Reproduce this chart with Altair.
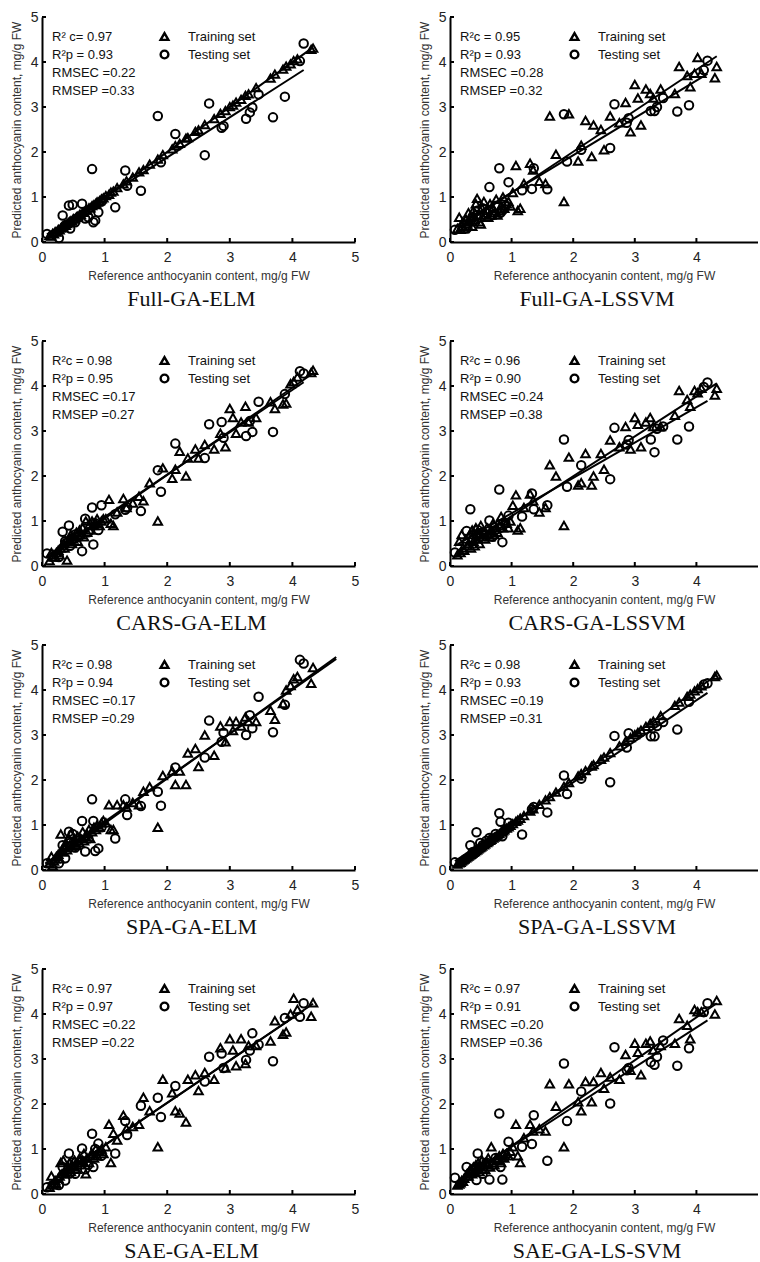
import altair as alt
import pandas as pd

# ---------------- data ----------------
train_ref = [0.12, 0.15, 0.17, 0.19, 0.21, 0.23, 0.26, 0.28, 0.30, 0.32,
             0.34, 0.36, 0.38, 0.40, 0.42, 0.44, 0.46, 0.48, 0.50, 0.52,
             0.55, 0.57, 0.60, 0.62, 0.65, 0.67, 0.70, 0.72, 0.75, 0.77,
             0.80, 0.83, 0.86, 0.88, 0.92, 0.95, 0.98,
             1.02, 1.07, 1.10, 1.14, 1.20, 1.30, 1.35, 1.45, 1.55, 1.62,
             1.72, 1.85, 1.93, 2.08, 2.13, 2.20, 2.30, 2.33, 2.45, 2.50,
             2.60, 2.75, 2.85, 2.93, 3.00, 3.05, 3.10, 3.18, 3.25, 3.30,
             3.42, 3.65, 3.72, 3.85, 3.90, 3.97, 4.02, 4.08, 4.30, 4.33]

test_ref = [0.08, 0.27, 0.33, 0.37, 0.43, 0.45, 0.49, 0.53, 0.59, 0.64,
            0.69, 0.74, 0.80, 0.82, 0.85, 0.90, 0.95, 1.17, 1.33, 1.36,
            1.58, 1.85, 1.90, 2.13, 2.60, 2.67, 2.87, 2.90, 3.26, 3.32,
            3.36, 3.46, 3.69, 3.88, 4.12, 4.18]

full_elm_train = [0.14, 0.13, 0.19, 0.18, 0.23, 0.22, 0.28, 0.27, 0.31, 0.33,
                  0.33, 0.38, 0.37, 0.41, 0.43, 0.45, 0.47, 0.47, 0.52, 0.51,
                  0.56, 0.57, 0.61, 0.61, 0.66, 0.66, 0.71, 0.71, 0.76, 0.76,
                  0.81, 0.83, 0.86, 0.89, 0.92, 0.96, 0.98,
                  1.03, 1.06, 1.11, 1.13, 1.21, 1.29, 1.36, 1.44, 1.56, 1.61,
                  1.73, 1.84, 1.94, 2.07, 2.14, 2.19, 2.31, 2.32, 2.46, 2.49,
                  2.61, 2.74, 2.86, 2.92, 3.01, 3.04, 3.11, 3.17, 3.26, 3.29,
                  3.43, 3.64, 3.73, 3.84, 3.91, 3.96, 4.03, 4.07, 4.28, 4.31]
full_elm_test = [0.18, 0.09, 0.59, 0.37, 0.81, 0.30, 0.83, 0.44, 0.55, 0.85,
                 0.52, 0.55, 1.62, 0.44, 0.48, 0.66, 0.90, 0.77, 1.59, 1.25,
                 1.14, 2.80, 1.77, 2.40, 1.93, 3.08, 2.54, 2.58, 2.74, 2.88,
                 2.99, 3.28, 2.77, 3.23, 4.02, 4.41]

full_lssvm_train = [0.30, 0.55, 0.28, 0.35, 0.45, 0.30, 0.50, 0.40, 0.65, 0.45,
                    0.55, 0.35, 0.70, 0.50, 0.85, 0.97, 0.60, 0.45, 0.40, 0.75,
                    0.90, 0.60, 0.70, 0.55, 0.85, 0.60, 0.75, 0.65, 0.95, 0.60,
                    0.70, 0.80, 1.00, 0.75, 0.85, 0.90, 0.80,
                    1.10, 1.70, 0.70, 0.75, 1.30, 1.75, 1.60, 1.35, 1.30, 2.80,
                    1.95, 0.90, 2.85, 1.80, 2.15, 2.70, 1.90, 2.60, 2.50, 2.05,
                    2.80, 2.65, 3.10, 2.45, 3.50, 3.20, 2.60, 3.40, 3.30, 3.20,
                    3.40, 3.30, 3.90, 3.70, 3.45, 3.75, 4.10, 3.75, 3.65, 3.90]
full_lssvm_test = [0.27, 0.30, 0.45, 0.55, 0.60, 0.70, 0.55, 0.75, 0.65, 1.22,
                   0.60, 0.80, 1.64, 0.65, 0.70, 0.80, 1.33, 1.15, 1.18, 1.64,
                   1.17, 2.84, 1.79, 2.05, 2.09, 3.06, 2.65, 2.75, 2.91, 2.91,
                   3.00, 3.20, 2.90, 3.04, 3.82, 4.03]

cars_elm_train = [0.12, 0.30, 0.20, 0.25, 0.20, 0.30, 0.35, 0.25, 0.40, 0.45,
                  0.50, 0.40, 0.55, 0.13, 0.55, 0.60, 0.70, 0.50, 0.60, 0.65,
                  0.75, 0.55, 0.80, 0.70, 0.85, 0.65, 1.00, 0.75, 0.90, 0.80,
                  1.00, 0.90, 0.95, 1.05, 0.90, 1.00, 1.05,
                  1.05, 1.48, 0.95, 0.90, 1.20, 1.50, 1.30, 1.40, 1.55, 1.45,
                  1.85, 1.00, 2.18, 1.95, 2.15, 2.55, 2.00, 2.40, 2.60, 2.40,
                  2.70, 2.60, 2.95, 2.65, 3.50, 3.30, 2.95, 3.20, 3.55, 3.20,
                  3.30, 3.65, 3.50, 3.60, 3.62, 4.05, 4.10, 4.20, 4.30, 4.35]
cars_elm_test = [0.28, 0.20, 0.76, 0.55, 0.90, 0.45, 0.60, 0.70, 0.65, 0.33,
                 1.05, 0.75, 1.30, 0.48, 0.95, 0.80, 1.35, 1.15, 1.25, 1.30,
                 1.22, 2.13, 1.65, 2.72, 2.40, 3.15, 3.20, 2.85, 2.89, 3.22,
                 2.98, 3.65, 2.98, 3.82, 4.33, 4.28]

cars_lssvm_train = [0.25, 0.55, 0.30, 0.70, 0.40, 0.35, 0.60, 0.45, 0.50, 0.70,
                    0.40, 0.80, 0.55, 0.45, 0.85, 0.60, 0.70, 0.50, 0.90, 0.65,
                    0.75, 0.60, 0.85, 0.70, 0.65, 0.80, 0.95, 0.70, 0.85, 0.75,
                    0.90, 1.10, 0.85, 1.00, 0.95, 0.85, 1.00,
                    1.35, 1.58, 0.80, 0.85, 1.30, 1.60, 1.45, 1.20, 1.30, 2.25,
                    2.00, 0.90, 2.42, 1.80, 1.85, 2.50, 1.80, 2.00, 2.50, 2.15,
                    2.80, 2.65, 3.10, 2.60, 3.30, 3.15, 2.65, 3.20, 3.30, 3.10,
                    3.10, 3.35, 3.90, 3.70, 3.55, 3.90, 3.85, 3.95, 3.80, 3.95]
cars_lssvm_test = [0.30, 0.78, 1.26, 0.60, 0.70, 0.80, 0.65, 0.75, 0.70, 1.01,
                   0.65, 0.80, 1.70, 0.85, 0.53, 0.95, 1.12, 1.10, 1.61, 1.26,
                   1.35, 2.81, 1.76, 2.24, 1.93, 3.07, 2.70, 2.80, 2.81, 2.53,
                   3.05, 3.10, 2.81, 3.10, 3.98, 4.08]

spa_elm_train = [0.15, 0.30, 0.10, 0.20, 0.25, 0.30, 0.35, 0.25, 0.80, 0.45,
                 0.40, 0.50, 0.60, 0.45, 0.70, 0.55, 0.80, 0.50, 0.60, 0.70,
                 0.55, 0.75, 0.60, 0.70, 0.85, 0.65, 0.75, 0.80, 0.90, 0.70,
                 0.85, 0.95, 0.90, 1.00, 0.95, 1.05, 1.10,
                 1.05, 1.45, 0.90, 0.90, 1.45, 1.45, 1.40, 1.50, 1.45, 1.75,
                 1.85, 0.95, 2.10, 2.20, 1.90, 2.20, 1.90, 2.60, 2.70, 2.30,
                 3.00, 2.55, 3.20, 2.85, 3.30, 3.10, 3.30, 3.20, 3.40, 3.30,
                 3.30, 3.55, 3.35, 3.70, 4.00, 4.10, 4.25, 4.30, 4.15, 4.50]
spa_elm_test = [0.15, 0.15, 0.55, 0.26, 0.85, 0.60, 0.80, 0.50, 0.65, 1.09,
                0.41, 0.70, 1.57, 1.09, 0.42, 0.48, 0.95, 0.70, 1.57, 1.22,
                1.42, 1.74, 1.43, 2.28, 2.50, 3.32, 2.85, 3.05, 3.00, 3.44,
                3.15, 3.85, 3.06, 3.67, 4.67, 4.59]

spa_lssvm_train = [0.13, 0.16, 0.17, 0.20, 0.22, 0.24, 0.27, 0.29, 0.31, 0.33,
                   0.35, 0.37, 0.39, 0.41, 0.43, 0.45, 0.47, 0.49, 0.51, 0.53,
                   0.56, 0.58, 0.61, 0.63, 0.66, 0.68, 0.71, 0.73, 0.76, 0.78,
                   0.81, 0.84, 0.87, 0.89, 0.93, 0.96, 0.99,
                   1.03, 1.08, 1.11, 1.15, 1.21, 1.31, 1.36, 1.46, 1.56, 1.63,
                   1.73, 1.86, 1.94, 2.09, 2.14, 2.21, 2.31, 2.34, 2.46, 2.51,
                   2.61, 2.76, 2.86, 2.94, 3.01, 3.06, 3.11, 3.19, 3.26, 3.31,
                   3.43, 3.66, 3.73, 3.86, 3.91, 3.98, 4.03, 4.09, 4.30, 4.33]
spa_lssvm_test = [0.17, 0.25, 0.55, 0.40, 0.84, 0.45, 0.60, 0.55, 0.65, 0.71,
                  0.70, 0.80, 1.26, 1.07, 0.75, 0.90, 1.05, 0.79, 1.35, 1.40,
                  1.28, 2.10, 1.69, 2.03, 1.95, 2.98, 2.72, 3.04, 2.97, 2.97,
                  3.20, 3.29, 3.12, 3.74, 4.12, 4.15]

sae_elm_train = [0.15, 0.40, 0.20, 0.25, 0.30, 0.22, 0.35, 0.40, 0.70, 0.45,
                 0.75, 0.50, 0.45, 0.60, 0.55, 0.70, 0.50, 0.65, 0.60, 0.75,
                 0.55, 0.70, 0.80, 0.65, 0.75, 0.90, 0.45, 0.80, 0.70, 0.85,
                 0.90, 0.80, 1.00, 0.85, 0.95, 1.00, 0.90,
                 1.05, 1.55, 0.70, 1.35, 1.20, 1.75, 1.45, 1.50, 1.55, 2.15,
                 1.85, 1.05, 2.55, 2.25, 1.85, 1.80, 1.60, 2.55, 2.65, 2.30,
                 2.70, 2.55, 3.25, 2.80, 3.45, 3.20, 2.85, 3.45, 2.90, 3.30,
                 3.30, 3.40, 3.85, 3.55, 3.60, 4.00, 4.35, 4.10, 3.95, 4.25]
sae_elm_test = [0.15, 0.20, 0.60, 0.30, 0.90, 0.46, 0.70, 0.45, 0.70, 1.01,
                0.55, 0.65, 1.34, 0.60, 1.00, 1.12, 0.85, 0.90, 1.62, 1.31,
                1.96, 2.14, 1.71, 2.40, 2.50, 3.05, 3.12, 2.80, 2.98, 3.19,
                3.57, 3.32, 2.95, 3.91, 3.94, 4.24]

sae_lssvm_train = [0.20, 0.22, 0.25, 0.30, 0.28, 0.35, 0.40, 0.45, 0.40, 0.50,
                   0.55, 0.45, 0.60, 0.50, 0.65, 0.55, 0.70, 0.50, 0.60, 0.75,
                   0.65, 0.55, 0.70, 0.80, 0.60, 1.05, 0.70, 0.65, 0.80, 0.75,
                   0.85, 0.70, 0.90, 0.80, 0.90, 0.85, 0.95,
                   1.05, 1.55, 0.85, 0.70, 1.25, 1.55, 1.40, 1.45, 1.40, 2.45,
                   1.95, 1.05, 2.45, 2.05, 1.85, 2.50, 2.05, 2.50, 2.70, 2.35,
                   2.60, 2.55, 3.10, 2.75, 3.35, 3.15, 2.65, 3.35, 3.40, 3.20,
                   3.30, 3.35, 3.90, 3.75, 3.45, 4.10, 4.05, 4.05, 4.00, 4.30]
sae_lssvm_test = [0.36, 0.60, 0.48, 0.55, 0.31, 0.90, 0.60, 0.45, 0.70, 0.32,
                  0.65, 0.80, 1.79, 0.60, 0.32, 0.85, 1.16, 1.05, 1.11, 1.75,
                  0.74, 2.90, 1.62, 2.28, 2.01, 3.26, 2.75, 2.80, 2.93, 2.87,
                  3.05, 3.41, 2.85, 3.24, 4.04, 4.24]

panel_titles = ["Full-GA-ELM", "Full-GA-LSSVM", "CARS-GA-ELM", "CARS-GA-LSSVM",
                "SPA-GA-ELM", "SPA-GA-LSSVM", "SAE-GA-ELM", "SAE-GA-LS-SVM"]
r2c_text = ["R² c= 0.97", "R²c = 0.95", "R²c = 0.98", "R²c = 0.96",
            "R²c = 0.98", "R²c = 0.98", "R²c = 0.97", "R²c = 0.97"]
r2p = ["0.93", "0.93", "0.95", "0.90", "0.94", "0.93", "0.97", "0.91"]
rmsec = ["0.22", "0.28", "0.17", "0.24", "0.17", "0.19", "0.22", "0.20"]
rmsep = ["0.33", "0.32", "0.27", "0.38", "0.29", "0.31", "0.22", "0.36"]
line_extent = [None, None, None, None, [0.05, 4.7], None, None, None]

set_names = ["Training set", "Testing set"]
x_ticks_left = [0, 1, 2, 3, 4, 5]
x_ticks_right = [0, 1, 2, 3, 4]
y_ticks = [0, 1, 2, 3, 4, 5]

train_preds = [full_elm_train, full_lssvm_train, cars_elm_train, cars_lssvm_train,
               spa_elm_train, spa_lssvm_train, sae_elm_train, sae_lssvm_train]
test_preds = [full_elm_test, full_lssvm_test, cars_elm_test, cars_lssvm_test,
              spa_elm_test, spa_lssvm_test, sae_elm_test, sae_lssvm_test]

# ---------------- layout constants ----------------
H = 225
W_LEFT = 313
W_RIGHT = 308
FONT = "Liberation Sans"


def make_panel(i):
    right = i % 2 == 1
    W = W_RIGHT if right else W_LEFT
    xvals = x_ticks_right if right else x_ticks_left
    df = pd.concat([
        pd.DataFrame({"ref": train_ref, "pred": train_preds[i], "set": set_names[0]}),
        pd.DataFrame({"ref": test_ref, "pred": test_preds[i], "set": set_names[1]}),
    ], ignore_index=True)

    xscale = alt.Scale(domain=[0, 5], nice=False, zero=False)
    yscale = alt.Scale(domain=[0, 5], nice=False, zero=False)
    xaxis = alt.Axis(values=xvals, format="d", labelFlush=False,
                     title="Reference anthocyanin content, mg/g FW")
    yaxis = alt.Axis(values=y_ticks, format="d", labelFlush=False,
                     title="Predicted anthocyanin content, mg/g FW")

    def X(f):
        return alt.X(f, type="quantitative", scale=xscale, axis=xaxis,
                     title="Reference anthocyanin content, mg/g FW")

    def Y(f):
        return alt.Y(f, type="quantitative", scale=yscale, axis=yaxis,
                     title="Predicted anthocyanin content, mg/g FW")

    pts = alt.Chart(df).mark_point(
        filled=False, color="black", size=72, strokeWidth=2, opacity=1
    ).encode(
        x=X("ref"), y=Y("pred"),
        shape=alt.Shape("set:N",
                        scale=alt.Scale(domain=set_names, range=["triangle-up", "circle"]),
                        legend=alt.Legend(title=None, orient="none",
                                          legendX=118 if right else 116, legendY=13,
                                          labelFont=FONT, labelFontSize=13, labelColor="#111",
                                          symbolSize=60, symbolStrokeWidth=2.4,
                                          symbolStrokeColor="black", labelOffset=17,
                                          rowPadding=0, padding=0)),
    )

    reg_kwargs = {"groupby": ["set"]}
    if line_extent[i] is not None:
        reg_kwargs["extent"] = line_extent[i]
    reg = alt.Chart(df).transform_regression("ref", "pred", **reg_kwargs).mark_line(
        color="black", strokeWidth=2
    ).encode(x=X("ref"), y=Y("pred"), detail="set:N")

    xt = alt.Chart(pd.DataFrame({"v": xvals})).mark_rule(color="black", strokeWidth=2).encode(
        x=X("v"), y=alt.value(H), y2=alt.value(H - 4))
    yt = alt.Chart(pd.DataFrame({"v": y_ticks})).mark_rule(color="black", strokeWidth=2).encode(
        y=Y("v"), x=alt.value(0), x2=alt.value(4))

    stats = "\n".join([r2c_text[i], "R²p = " + r2p[i],
                       "RMSEC =" + rmsec[i], "RMSEP =" + rmsep[i]])
    txt = alt.Chart(pd.DataFrame({"t": [stats]})).mark_text(
        align="left", baseline="top", lineBreak="\n", lineHeight=18,
        font=FONT, fontSize=13, color="#111"
    ).encode(text="t:N", x=alt.value(10), y=alt.value(14))

    return alt.layer(reg, pts, xt, yt, txt).properties(
        width=W, height=H,
        title=alt.TitleParams(text=panel_titles[i], orient="bottom", anchor="middle",
                              font="Liberation Serif", fontSize=22, fontWeight="normal",
                              color="#111", offset=8, dx=-7),
    )


rows = []
for r in range(4):
    rows.append(
        alt.hconcat(make_panel(2 * r), make_panel(2 * r + 1), spacing=95, bounds="flush")
        .resolve_scale(shape="independent")
    )

mid = alt.vconcat(rows[1], rows[2], spacing=4).resolve_scale(shape="independent")
chart = alt.vconcat(rows[0], mid, rows[3], spacing=24).resolve_scale(shape="independent")

chart = chart.properties(
    padding={"top": 10, "left": 10, "right": 0, "bottom": 0}
).configure_view(stroke=None).configure_axis(
    domainColor="black", domainWidth=2, ticks=False, tickSize=0, grid=False,
    labelFont=FONT, labelFontSize=14, labelColor="#222",
    titleFont=FONT, titleFontSize=12, titleFontWeight="normal", titleColor="#333",
).configure_axisX(labelPadding=8, titlePadding=6).configure_axisY(labelPadding=4, titlePadding=7)

chart.save("out.html", embed_options={"renderer": "svg", "actions": False})
